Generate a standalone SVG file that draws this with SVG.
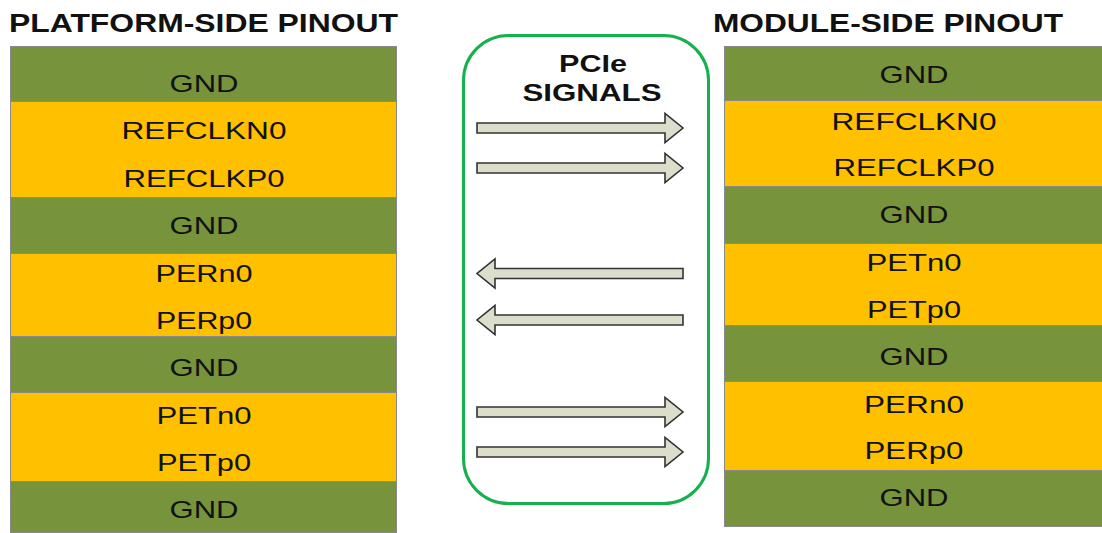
<svg xmlns="http://www.w3.org/2000/svg" width="1102" height="533" viewBox="0 0 1102 533">
<defs>
<style>
.g{fill:#77933c;stroke:#8a8a8a;stroke-width:1}
.y{fill:#ffc000;stroke:#8a8a8a;stroke-width:1}
.t{font-family:"Liberation Sans",Arial,sans-serif;font-size:24px;fill:#111;text-anchor:middle}
.h{font-family:"Liberation Sans",Arial,sans-serif;font-size:25px;font-weight:bold;fill:#111}
.p{font-family:"Liberation Sans",Arial,sans-serif;font-size:23px;font-weight:bold;fill:#111;text-anchor:middle}
.a{fill:#dcdecb;stroke:#333;stroke-width:1.6;stroke-linejoin:miter}
</style>
</defs>
<rect width="1102" height="533" fill="#fff"/>
<text class="h" x="9" y="32" textLength="389" lengthAdjust="spacingAndGlyphs">PLATFORM-SIDE PINOUT</text>
<text class="h" x="713" y="32" textLength="350" lengthAdjust="spacingAndGlyphs">MODULE-SIDE PINOUT</text>

<g id="platform">
<g id="p-gnd1"><rect class="g" x="10.5" y="46.5" width="386" height="55"/><text class="t" x="204" y="92" textLength="69" lengthAdjust="spacingAndGlyphs">GND</text></g>
<g id="p-refclk"><rect class="y" x="10.5" y="101.5" width="386" height="96"/><text class="t" x="204" y="139" textLength="165" lengthAdjust="spacingAndGlyphs">REFCLKN0</text><text class="t" x="204" y="187" textLength="161" lengthAdjust="spacingAndGlyphs">REFCLKP0</text></g>
<g id="p-gnd2"><rect class="g" x="10.5" y="197.5" width="386" height="56"/><text class="t" x="204" y="234" textLength="69" lengthAdjust="spacingAndGlyphs">GND</text></g>
<g id="p-per"><rect class="y" x="10.5" y="253.5" width="386" height="83"/><text class="t" x="204" y="282" textLength="97" lengthAdjust="spacingAndGlyphs">PERn0</text><text class="t" x="204" y="329" textLength="96" lengthAdjust="spacingAndGlyphs">PERp0</text></g>
<g id="p-gnd3"><rect class="g" x="10.5" y="336.5" width="386" height="56"/><text class="t" x="204" y="376" textLength="69" lengthAdjust="spacingAndGlyphs">GND</text></g>
<g id="p-pet"><rect class="y" x="10.5" y="392.5" width="386" height="89"/><text class="t" x="204" y="424" textLength="95" lengthAdjust="spacingAndGlyphs">PETn0</text><text class="t" x="204" y="471" textLength="94" lengthAdjust="spacingAndGlyphs">PETp0</text></g>
<g id="p-gnd4"><rect class="g" x="10.5" y="481.5" width="386" height="51"/><text class="t" x="204" y="518" textLength="69" lengthAdjust="spacingAndGlyphs">GND</text></g>
</g>

<g id="module">
<g id="m-gnd1"><rect class="g" x="724.5" y="46.5" width="380" height="54"/><text class="t" x="914" y="83" textLength="69" lengthAdjust="spacingAndGlyphs">GND</text></g>
<g id="m-refclk"><rect class="y" x="724.5" y="100.5" width="380" height="86"/><text class="t" x="914" y="130" textLength="165" lengthAdjust="spacingAndGlyphs">REFCLKN0</text><text class="t" x="914" y="176" textLength="161" lengthAdjust="spacingAndGlyphs">REFCLKP0</text></g>
<g id="m-gnd2"><rect class="g" x="724.5" y="186.5" width="380" height="57"/><text class="t" x="914" y="223" textLength="69" lengthAdjust="spacingAndGlyphs">GND</text></g>
<g id="m-pet"><rect class="y" x="724.5" y="243.5" width="380" height="82"/><text class="t" x="914" y="271" textLength="95" lengthAdjust="spacingAndGlyphs">PETn0</text><text class="t" x="914" y="318" textLength="94" lengthAdjust="spacingAndGlyphs">PETp0</text></g>
<g id="m-gnd3"><rect class="g" x="724.5" y="325.5" width="380" height="56"/><text class="t" x="914" y="365" textLength="69" lengthAdjust="spacingAndGlyphs">GND</text></g>
<g id="m-per"><rect class="y" x="724.5" y="381.5" width="380" height="89"/><text class="t" x="914" y="413" textLength="100" lengthAdjust="spacingAndGlyphs">PERn0</text><text class="t" x="914" y="459" textLength="99" lengthAdjust="spacingAndGlyphs">PERp0</text></g>
<g id="m-gnd4"><rect class="g" x="724.5" y="470.5" width="380" height="56"/><text class="t" x="914" y="506" textLength="69" lengthAdjust="spacingAndGlyphs">GND</text></g>
</g>

<g id="pcie">
<rect x="463.5" y="35.5" width="245" height="468" rx="45" ry="45" fill="#fff" stroke="#17b04e" stroke-width="3"/>
<text class="p" x="593" y="72" textLength="68" lengthAdjust="spacingAndGlyphs">PCIe</text>
<text class="p" x="592" y="101" textLength="139" lengthAdjust="spacingAndGlyphs">SIGNALS</text>
</g>

<g id="connectors">
<path class="a" d="M477,123 H665 V113.5 L683,128 L665,142.5 V133 H477 Z"/>
<path class="a" d="M477,163 H665 V153.5 L683,168 L665,182.5 V173 H477 Z"/>
<path class="a" d="M683,268.5 H495 V259 L477,273.5 L495,288 V278.5 H683 Z"/>
<path class="a" d="M683,315 H495 V305.5 L477,320 L495,334.5 V325 H683 Z"/>
<path class="a" d="M477,407 H665 V397.5 L683,412 L665,426.5 V417 H477 Z"/>
<path class="a" d="M477,447 H665 V437.5 L683,452 L665,466.5 V457 H477 Z"/>
</g>
</svg>
